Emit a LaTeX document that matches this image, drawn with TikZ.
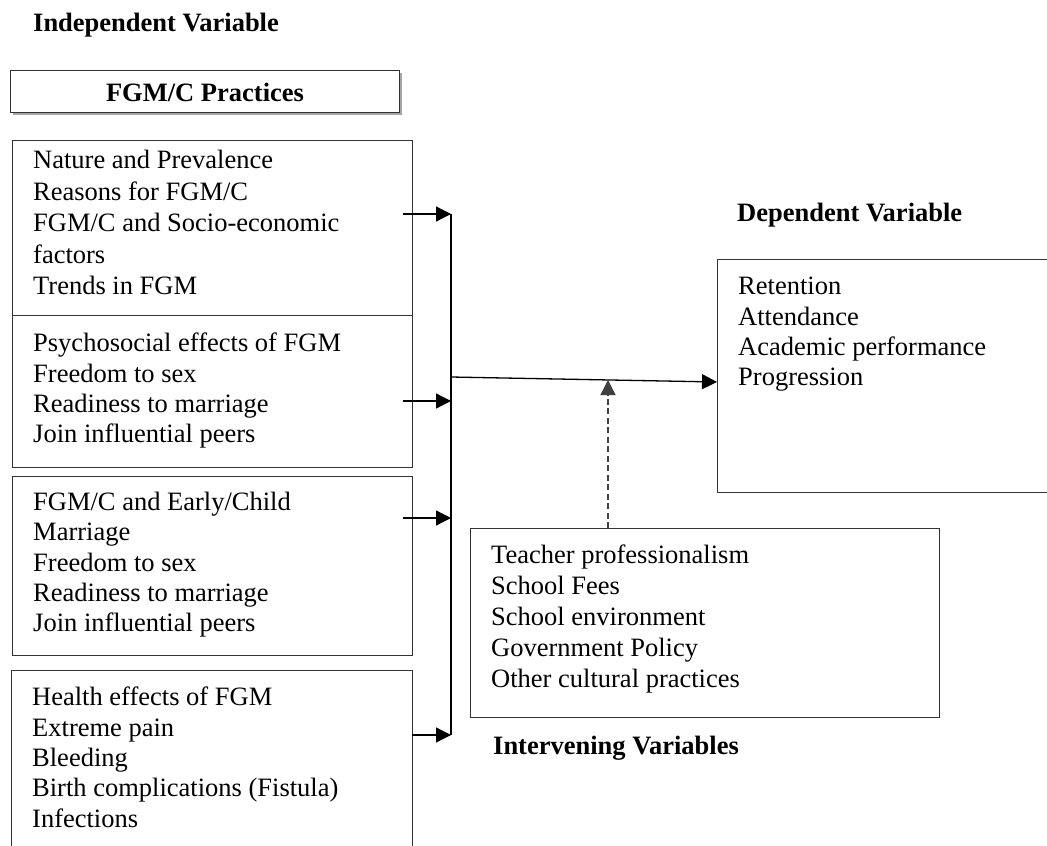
\documentclass[tikz,border=0pt]{standalone}
\usepackage{fontspec}
\setmainfont{Liberation Serif}
\usetikzlibrary{arrows.meta}
\begin{document}
\begin{tikzpicture}[x=1pt,y=-1pt,
  box/.style={draw=black!80, line width=1.3pt, inner sep=0pt, anchor=north west},
  body/.style={font=\fontsize{26.5}{30.3}\selectfont, align=left, inner sep=0pt, anchor=north west},
  head/.style={font=\fontsize{26.5}{30}\selectfont\bfseries, inner sep=0pt, anchor=base west},
  conn/.style={line width=1.3pt, draw=black},
  arr/.style={conn, -{Triangle[length=15pt,width=15pt]}},
  dasharr/.style={arr, draw=black!75, dash pattern=on 6pt off 3.5pt},
]
\clip (0,0) rectangle (1047,846);
\fill[white] (0,0) rectangle (1047,846);

% headings
\node[head] (indep) at (33,31) {Independent Variable};
\node[head] (dephead) at (737,221) {Dependent Variable};
\node[head] (intvhead) at (493,754) {Intervening Variables};

% FGM/C practices header box with shadow
\fill[black!35] (12.5,72.5) rectangle (401.5,114.5);
\node[box, fill=white, minimum width=389pt, minimum height=42pt] (fgmc) at (10,70) {};
\node[font=\fontsize{26.5}{30}\selectfont\bfseries, inner sep=0pt, anchor=base] (fgmctext) at (205,101) {FGM/C Practices};

% left boxes
\node[box, minimum width=400pt, minimum height=175pt] (b1) at (12,140) {};
\node[box, minimum width=400pt, minimum height=152pt] (b2) at (12,315) {};
\node[box, minimum width=400pt, minimum height=179pt] (b3) at (12,476) {};
\node[box, minimum width=401pt, minimum height=240pt] (b4) at (11,670) {};

\node[body, font=\fontsize{26.5}{31.5}\selectfont] (t1) at (33,150) {Nature and Prevalence\\Reasons for FGM/C\\FGM/C and Socio-economic\\factors\\Trends in FGM};
\node[body] (t2) at (33,333) {Psychosocial effects of FGM\\Freedom to sex\\Readiness to marriage\\Join influential peers};
\node[body] (t3) at (33,492) {FGM/C and Early/Child\\Marriage\\Freedom to sex\\Readiness to marriage\\Join influential peers};
\node[body] (t4) at (32,687) {Health effects of FGM\\Extreme pain\\Bleeding\\Birth complications (Fistula)\\Infections};

% right boxes
\node[box, minimum width=400pt, minimum height=233pt] (dep) at (717,259) {};
\node[body] (tdep) at (738,277) {Retention\\Attendance\\Academic performance\\Progression};
\node[box, minimum width=469pt, minimum height=189pt] (intv) at (470,528) {};
\node[body, font=\fontsize{26.5}{30.8}\selectfont] (tintv) at (491,545) {Teacher professionalism\\School Fees\\School environment\\Government Policy\\Other cultural practices};

% collecting bar
\coordinate (bt) at (451,214);
\coordinate (bb) at (451,735);
\draw[conn] (bt) -- (bb);

\coordinate (a1) at (403,214);
\coordinate (a2) at (403,401);
\coordinate (e2) at (451,401);
\coordinate (a3) at (403,518);
\coordinate (e3) at (451,518);
\coordinate (a4) at (412,735);
\draw[arr] (a1) -- (bt);
\draw[arr] (a2) -- (e2);
\draw[arr] (a3) -- (e3);
\draw[arr] (a4) -- (bb);

% main arrow to dependent variable
\coordinate (m0) at (451,377);
\coordinate (m1) at (717,382);
\draw[arr] (m0) -- (m1);

% dashed intervening arrow
\coordinate (d0) at (608,528);
\coordinate (d1) at (608,380);
\draw[dasharr] (d0) -- (d1);
\end{tikzpicture}
\end{document}
